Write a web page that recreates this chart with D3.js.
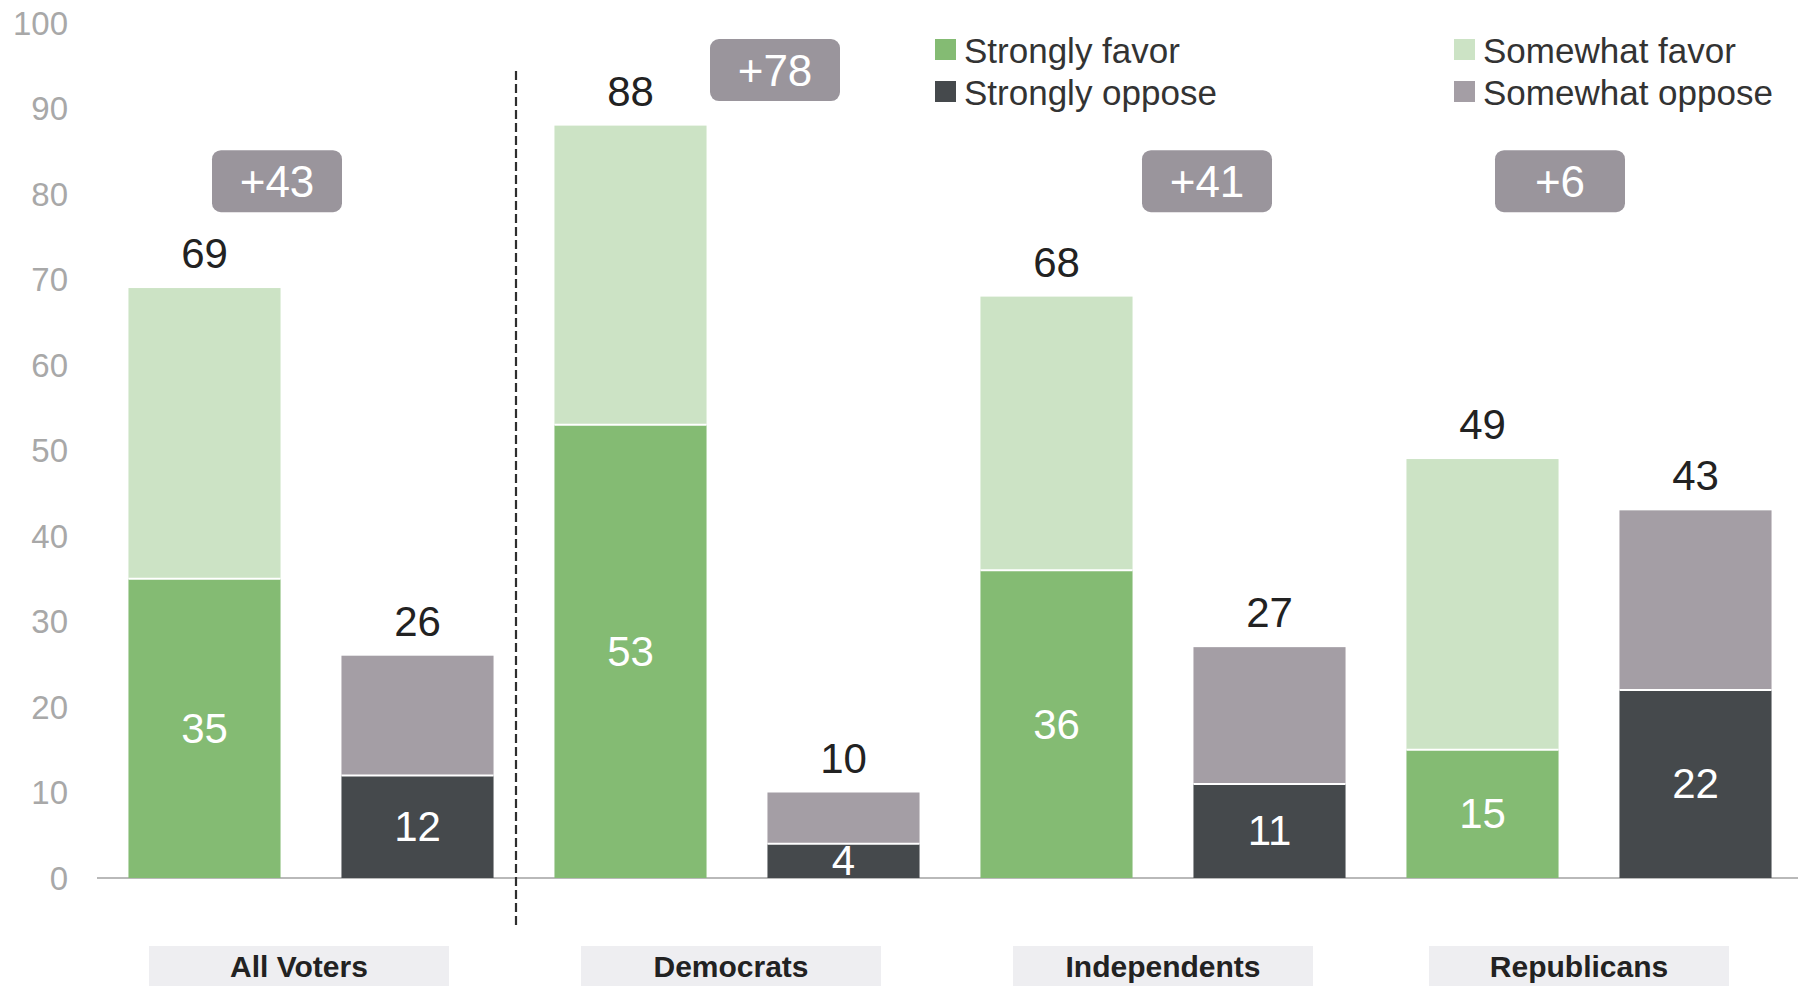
<!DOCTYPE html>
<html>
<head>
<meta charset="utf-8">
<script src="https://cdn.jsdelivr.net/npm/d3@7"></script>
<style>
  html, body { margin: 0; padding: 0; background: #fff; }
  svg { display: block; }
  text { font-family: "Liberation Sans", Arial, Helvetica, sans-serif; }
</style>
</head>
<body>
<svg id="chart" width="1798" height="986"></svg>
<script>
// ---------- DATA ----------
const groups = ["All Voters", "Democrats", "Independents", "Republicans"];
const stronglyFavor  = [35, 53, 36, 15];
const somewhatFavor  = [34, 35, 32, 34];
const stronglyOppose = [12, 4, 11, 22];
const somewhatOppose = [14, 6, 16, 21];
const yTicks = [0, 10, 20, 30, 40, 50, 60, 70, 80, 90, 100];
const legendLabels = ["Strongly favor", "Strongly oppose", "Somewhat favor", "Somewhat oppose"];

// ---------- LAYOUT / STYLE ----------
const W = 1798, H = 986;
const colors = {
  "Strongly favor": "#84bb73",
  "Somewhat favor": "#cce3c5",
  "Strongly oppose": "#45494c",
  "Somewhat oppose": "#a49ea5"
};
const netBoxDx = [-34, 38, 44, -29];         // annotation offsets (px) from group centre
const netBoxYVal = [81.5, 94.5, 81.5, 81.5]; // annotation height in axis units
const catDx = [-12, -6, 0, -10];             // category label offsets (px)

const svg = d3.select("#chart");

const y = d3.scaleLinear().domain([0, 100]).range([878, 23]);
const x0 = d3.scaleBand().domain(groups).range([98, 1802]).padding(0);
const x1 = d3.scaleBand().domain(["favor", "oppose"]).range([0, x0.bandwidth()])
  .paddingInner(0.286).paddingOuter(0.143);

// y tick labels
svg.append("g").selectAll("text").data(yTicks).join("text")
  .attr("x", 68).attr("y", d => y(d))
  .attr("text-anchor", "end").attr("dominant-baseline", "central")
  .attr("font-size", 33).attr("fill", "#a8a8a8")
  .text(d => d);

// baseline axis
svg.append("line")
  .attr("x1", 97).attr("x2", W).attr("y1", y(0)).attr("y2", y(0))
  .attr("stroke", "#b9b9b9").attr("stroke-width", 2);

// dashed separator
svg.append("line")
  .attr("x1", x0("Democrats") - 8).attr("x2", x0("Democrats") - 8)
  .attr("y1", 71).attr("y2", 928)
  .attr("stroke", "#2e2e2e").attr("stroke-width", 2.2)
  .attr("stroke-dasharray", "9,4");

// build stacked data
const bars = [];
groups.forEach((g, i) => {
  bars.push({ group: g, side: "favor", segs: [
    { key: "Strongly favor", v0: 0, v1: stronglyFavor[i], v: stronglyFavor[i] },
    { key: "Somewhat favor", v0: stronglyFavor[i], v1: stronglyFavor[i] + somewhatFavor[i], v: somewhatFavor[i] }
  ], total: stronglyFavor[i] + somewhatFavor[i] });
  bars.push({ group: g, side: "oppose", segs: [
    { key: "Strongly oppose", v0: 0, v1: stronglyOppose[i], v: stronglyOppose[i] },
    { key: "Somewhat oppose", v0: stronglyOppose[i], v1: stronglyOppose[i] + somewhatOppose[i], v: somewhatOppose[i] }
  ], total: stronglyOppose[i] + somewhatOppose[i] });
});

const barG = svg.append("g").selectAll("g").data(bars).join("g")
  .attr("transform", d => `translate(${x0(d.group) + x1(d.side)},0)`);

barG.selectAll("rect").data(d => d.segs).join("rect")
  .attr("x", 0).attr("width", x1.bandwidth())
  .attr("y", s => y(s.v1)).attr("height", s => y(s.v0) - y(s.v1))
  .attr("fill", s => colors[s.key]);

// white separators between segments
barG.append("line")
  .attr("x1", 0).attr("x2", x1.bandwidth())
  .attr("y1", d => y(d.segs[0].v1)).attr("y2", d => y(d.segs[0].v1))
  .attr("stroke", "#fff").attr("stroke-width", 2);

// inner labels (strong segment)
barG.append("text")
  .attr("x", x1.bandwidth() / 2)
  .attr("y", d => (y(d.segs[0].v0) + y(d.segs[0].v1)) / 2)
  .attr("text-anchor", "middle").attr("dominant-baseline", "central")
  .attr("font-size", 42).attr("fill", "#fff")
  .text(d => d.segs[0].v);

// total labels
barG.append("text")
  .attr("x", x1.bandwidth() / 2)
  .attr("y", d => y(d.total) - 20)
  .attr("text-anchor", "middle")
  .attr("font-size", 42).attr("fill", "#222")
  .text(d => d.total);

// net boxes
const netG = svg.append("g").selectAll("g").data(groups).join("g")
  .attr("transform", (g, i) => `translate(${x0(g) + x0.bandwidth() / 2 + netBoxDx[i]},${y(netBoxYVal[i])})`);
netG.append("rect")
  .attr("x", -65).attr("y", -31).attr("width", 130).attr("height", 62)
  .attr("rx", 9).attr("fill", "#9a959c");
netG.append("text")
  .attr("text-anchor", "middle").attr("dominant-baseline", "central")
  .attr("font-size", 44).attr("fill", "#fff")
  .text((g, i) => {
    const n = (stronglyFavor[i] + somewhatFavor[i]) - (stronglyOppose[i] + somewhatOppose[i]);
    return (n >= 0 ? "+" : "") + n;
  });

// category labels with light backgrounds
const catG = svg.append("g").selectAll("g").data(groups).join("g")
  .attr("transform", (g, i) => `translate(${x0(g) + x0.bandwidth() / 2 + catDx[i]},0)`);
catG.append("rect")
  .attr("x", -150).attr("y", 946).attr("width", 300).attr("height", 45)
  .attr("fill", "#eeeef1");
catG.append("text")
  .attr("y", 977).attr("text-anchor", "middle")
  .attr("font-size", 30).attr("font-weight", "bold").attr("fill", "#222")
  .text(g => g);

// legend
const legendPos = [
  { col: 0, row: 0 }, { col: 0, row: 1 }, { col: 1, row: 0 }, { col: 1, row: 1 }
];
const legendX = [935, 1454], legendY = [50, 92];
const lg = svg.append("g").selectAll("g").data(legendLabels).join("g")
  .attr("transform", (d, i) => `translate(${legendX[legendPos[i].col]},${legendY[legendPos[i].row]})`);
lg.append("rect").attr("x", 0).attr("y", -11).attr("width", 21).attr("height", 21)
  .attr("fill", d => colors[d]);
lg.append("text").attr("x", 29).attr("y", 0).attr("dominant-baseline", "central")
  .attr("font-size", 35).attr("fill", "#333")
  .text(d => d);
</script>
</body>
</html>
